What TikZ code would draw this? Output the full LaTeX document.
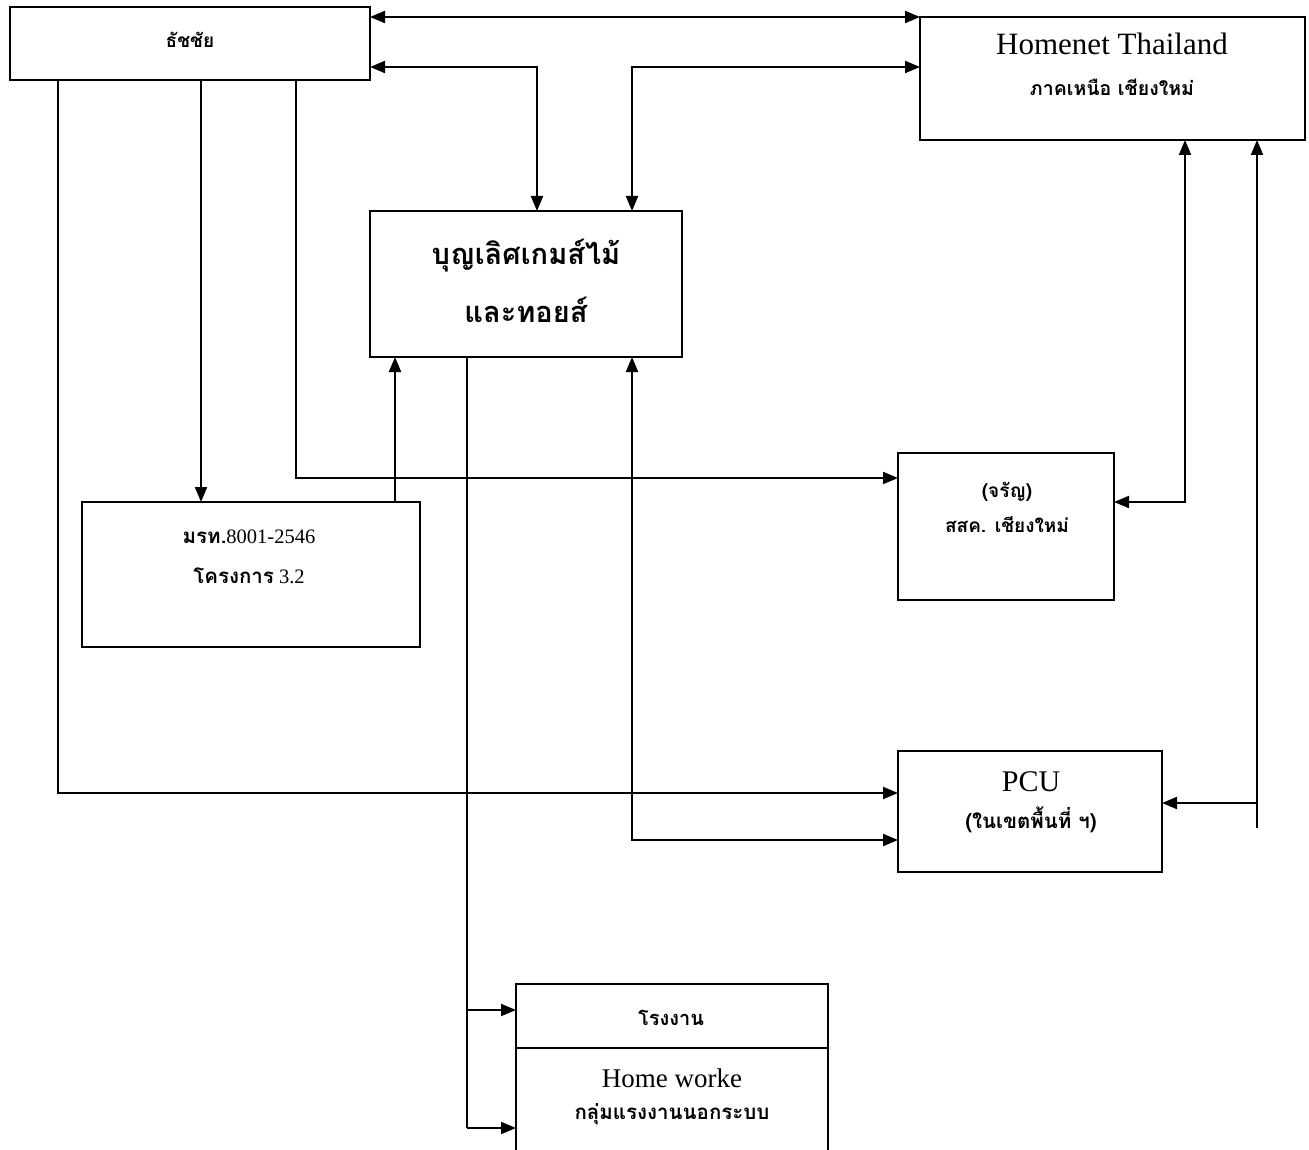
\documentclass[tikz,border=0pt]{standalone}
\usepackage{fontspec}
\setmainfont{Liberation Serif}
\newfontfamily\thai[Script=Thai]{Loma}
\usetikzlibrary{arrows.meta}
\tikzset{
    box/.style={draw, rectangle, line width=2pt, inner sep=0pt, outer sep=0pt},
    txt/.style={inner sep=0pt, align=center},
    >={Triangle[length=15pt,width=12pt]}
}
\begin{document}
\begin{tikzpicture}[x=1pt, y=-1pt, line width=2pt]
    \useasboundingbox (0,0) rectangle (1309,1150);
    % boxes
    \node[box, minimum width=360, minimum height=73] (tc) at (190,43.5) {};
    \node[box, minimum width=385, minimum height=123] (hn) at (1112.5,78.5) {};
    \node[box, minimum width=312, minimum height=146] (bl) at (526,284) {};
    \node[box, minimum width=338, minimum height=145] (mr) at (251,574.5) {};
    \node[box, minimum width=216, minimum height=147] (ss) at (1006,526.5) {};
    \node[box, minimum width=264, minimum height=121] (pcu) at (1030,811.5) {};
    \node[box, minimum width=312, minimum height=64] (rg) at (672,1016) {};
    \node[box, minimum width=312, minimum height=122] (hw) at (672,1109) {};
    % texts
    \node[txt, font=\thai\bfseries\fontsize{19}{21}\selectfont] (tc-t) at (190,40) {ธัชชัย};
    \node[txt, font=\fontsize{31}{33}\selectfont] (hn-t) at (1112,44) {Homenet Thailand};
    \node[txt, font=\thai\bfseries\fontsize{19.5}{22}\selectfont] (hn-s) at (1112,87) {ภาคเหนือ เชียงใหม่};
    \node[txt, font=\thai\bfseries\fontsize{29}{58}\selectfont] (bl-t) at (526,281) {บุญเลิศเกมส์ไม้\\และทอยส์};
    \node[txt, font=\fontsize{20.5}{40}\selectfont] (mr-t) at (249,557) {{\thai\bfseries มรท.}8001-2546\\{\thai\bfseries โครงการ} 3.2};
    \node[txt, font=\thai\bfseries\fontsize{19}{35}\selectfont] (ss-t) at (1007,507) {(จรัญ)\\สสค. เชียงใหม่};
    \node[txt, font=\fontsize{30}{32}\selectfont] (pcu-t) at (1031,782) {PCU};
    \node[txt, font=\thai\bfseries\fontsize{20.5}{22}\selectfont] (pcu-s) at (1031,820) {(ในเขตพื้นที่ ฯ)};
    \node[txt, font=\thai\bfseries\fontsize{20}{22}\selectfont] (rg-t) at (671,1018) {โรงงาน};
    \node[txt, font=\fontsize{27}{29}\selectfont] (hw-t) at (672,1078) {Home worke};
    \node[txt, font=\thai\bfseries\fontsize{20.5}{22}\selectfont] (hw-s) at (672,1114) {กลุ่มแรงงานนอกระบบ};
    % bend points
    \coordinate (j1) at (537,67);
    \coordinate (j2) at (632,67);
    \coordinate (a1) at (58,793);
    \coordinate (a2) at (201,0);
    \coordinate (a3) at (296,478);
    \coordinate (a4) at (395,0);
    \coordinate (a5) at (467,1010);
    \coordinate (a6) at (467,1128);
    \coordinate (a7) at (632,840);
    \coordinate (a8) at (1185,502);
    \coordinate (a9) at (1257,803);
    \coordinate (a10) at (1257,828);
    % connectors
    \draw[<->] (tc.east |- hn.north) -- (hn.north west);
    \draw[<->] (tc.east |- j1) -| (bl.north -| j1);
    \draw[<->] (bl.north -| j2) |- (hn.west |- j2);
    \draw[->] (tc.south -| a1) |- (pcu.west |- a1);
    \draw[->] (tc.south -| a2) -- (mr.north -| a2);
    \draw[->] (tc.south -| a3) |- (ss.west |- a3);
    \draw[->] (mr.north -| a4) -- (bl.south -| a4);
    \draw (bl.south -| a5) -- (a6);
    \draw[->] (a5) -- (rg.west |- a5);
    \draw[->] (a6) -- (hw.west |- a6);
    \draw[<->] (bl.south -| a7) |- (pcu.west |- a7);
    \draw[<->] (hn.south -| a8) |- (ss.east |- a8);
    \draw[->] (a10) -- (hn.south -| a10);
    \draw[->] (a9) -- (pcu.east |- a9);
\end{tikzpicture}
\end{document}
